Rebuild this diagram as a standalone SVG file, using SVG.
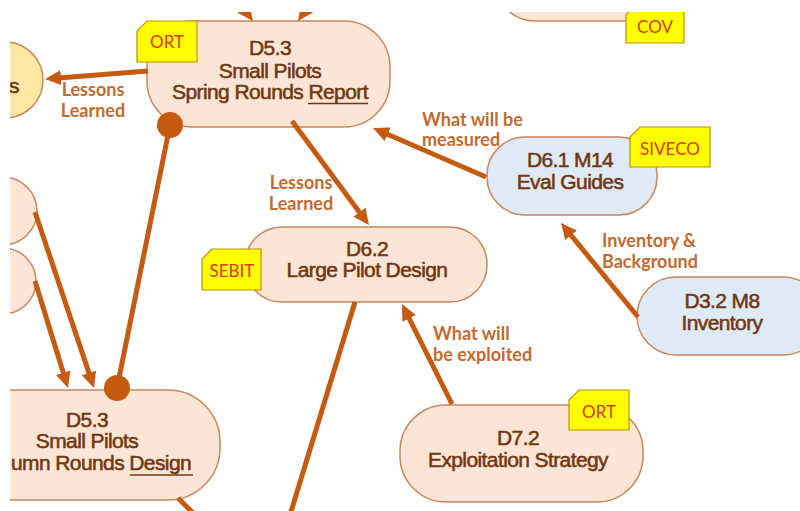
<svg xmlns="http://www.w3.org/2000/svg" width="800" height="511" viewBox="0 0 800 511">
<defs>
<clipPath id="frame"><rect x="10" y="12" width="790" height="499"/></clipPath>
<marker id="ah" markerUnits="userSpaceOnUse" markerWidth="16" markerHeight="15" viewBox="0 0 16 15" refX="9" refY="7.5" orient="auto">
<path d="M0,0 L16,7.5 L0,15 Z" fill="#C55A11"/>
</marker>
<style>
.node{fill:#FBE5D6;stroke:#C8875C;stroke-width:1.5}
.blue{fill:#DEEBF7;stroke:#C8875C;stroke-width:1.5}
.yel{fill:#FFE7A3;stroke:#C8875C;stroke-width:1.5}
.tag{fill:#FFFF00;stroke:#BF9000;stroke-width:1.2}
.tt{font-family:Lato,"Liberation Sans",sans-serif;font-size:17px;fill:#D93A00;text-anchor:middle}
.nt{font-family:"Liberation Sans",Arial,sans-serif;font-size:21px;letter-spacing:-0.6px;fill:#723710;stroke:#723710;stroke-width:0.55;text-anchor:middle}
.lb{font-family:Lato,"Liberation Sans",sans-serif;font-weight:bold;font-size:18px;fill:#C26A30}
.ln{stroke:#C55A11;stroke-width:5;fill:none}
.ar{stroke:#C55A11;stroke-width:5;fill:none;marker-end:url(#ah)}
.dot{fill:#C55A11}
.ul{stroke:#723710;stroke-width:1.6}
</style>
</defs>
<g clip-path="url(#frame)">
<g id="node-top-right">
<rect class="node" x="495" y="-60" width="190" height="81" rx="40"/>
<path class="tag" d="M636,5 H684 V43 H626 V15 Z"/>
<text class="tt" x="655" y="33">COV</text>
</g>
<g id="node-lessons-circle">
<circle class="yel" cx="5" cy="80" r="38"/>
<text class="nt" x="9" y="93" style="text-anchor:start">s</text>
</g>
<g id="node-left-1">
<circle class="node" cx="3" cy="211" r="34"/>
</g>
<g id="node-left-2">
<circle class="node" cx="3" cy="281" r="33"/>
</g>
<g id="node-d53-spring">
<rect class="node" x="147" y="21" width="243" height="106" rx="46"/>
<text class="nt" x="270" y="55">D5.3</text>
<text class="nt" x="270" y="78">Small Pilots</text>
<text class="nt" x="270" y="99">Spring Rounds Report</text>
<line class="ul" x1="308" y1="103.5" x2="368" y2="103.5"/>
<path class="tag" d="M147,21 H197 V62 H137 V31 Z"/>
<text class="tt" x="167" y="48">ORT</text>
</g>
<g id="node-d61">
<rect class="blue" x="487" y="137" width="170" height="78" rx="38"/>
<text class="nt" x="570" y="167">D6.1 M14</text>
<text class="nt" x="570" y="189">Eval Guides</text>
<path class="tag" d="M640,127 H710 V167 H630 V137 Z"/>
<text class="tt" x="670" y="155">SIVECO</text>
</g>
<g id="node-d62">
<rect class="node" x="245" y="227" width="242" height="75" rx="37"/>
<text class="nt" x="367" y="256">D6.2</text>
<text class="nt" x="367" y="277">Large Pilot Design</text>
<path class="tag" d="M212,249 H261 V290 H202 V259 Z"/>
<text class="tt" x="232" y="277">SEBIT</text>
</g>
<g id="node-d32">
<rect class="blue" x="637" y="277" width="185" height="78" rx="39"/>
<text class="nt" x="722" y="308">D3.2 M8</text>
<text class="nt" x="722" y="330">Inventory</text>
</g>
<g id="node-d72">
<rect class="node" x="400" y="405" width="243" height="97" rx="46"/>
<text class="nt" x="518" y="445">D7.2</text>
<text class="nt" x="518" y="467">Exploitation Strategy</text>
<path class="tag" d="M579,390 H629 V430 H569 V400 Z"/>
<text class="tt" x="599" y="418">ORT</text>
</g>
<g id="node-d53-autumn">
<rect class="node" x="-60" y="390" width="280" height="110" rx="52"/>
<text class="nt" x="87" y="427">D5.3</text>
<text class="nt" x="87" y="448">Small Pilots</text>
<text class="nt" x="11" y="470" style="text-anchor:start">umn Rounds Design</text>
<line class="ul" x1="130" y1="475" x2="193" y2="475"/>
</g>
<g id="connectors">
<line class="ar" x1="230" y1="-10" x2="248.8" y2="15.4"/>
<line class="ar" x1="320" y1="-10" x2="302" y2="15.3"/>
<line class="ar" x1="148" y1="71" x2="52" y2="78.5"/>
<line class="ar" x1="292" y1="121" x2="364.8" y2="219.4"/>
<line class="ar" x1="486" y1="177" x2="379.4" y2="130.8"/>
<line class="ar" x1="638" y1="317" x2="565.4" y2="228.4"/>
<line class="ar" x1="452" y1="404" x2="405.1" y2="310.3"/>
<line class="ar" x1="35" y1="212" x2="91.8" y2="381.4"/>
<line class="ar" x1="35" y1="281" x2="65.9" y2="381.3"/>
<line class="ln" x1="170" y1="125" x2="117" y2="388"/>
<circle class="dot" cx="170" cy="125" r="13"/>
<circle class="dot" cx="117" cy="388" r="13"/>
<line class="ln" x1="355" y1="302" x2="290" y2="515"/>
<line class="ln" x1="178" y1="498" x2="194" y2="514"/>
<text class="lb" x="93" y="96" text-anchor="middle">Lessons</text>
<text class="lb" x="93" y="117" text-anchor="middle">Learned</text>
<text class="lb" x="301" y="189" text-anchor="middle">Lessons</text>
<text class="lb" x="301" y="210" text-anchor="middle">Learned</text>
<text class="lb" x="422" y="126">What will be</text>
<text class="lb" x="422" y="146">measured</text>
<text class="lb" x="602" y="247">Inventory &amp;</text>
<text class="lb" x="602" y="268">Background</text>
<text class="lb" x="433" y="340">What will</text>
<text class="lb" x="433" y="361">be exploited</text>
</g>
</g>
</svg>
